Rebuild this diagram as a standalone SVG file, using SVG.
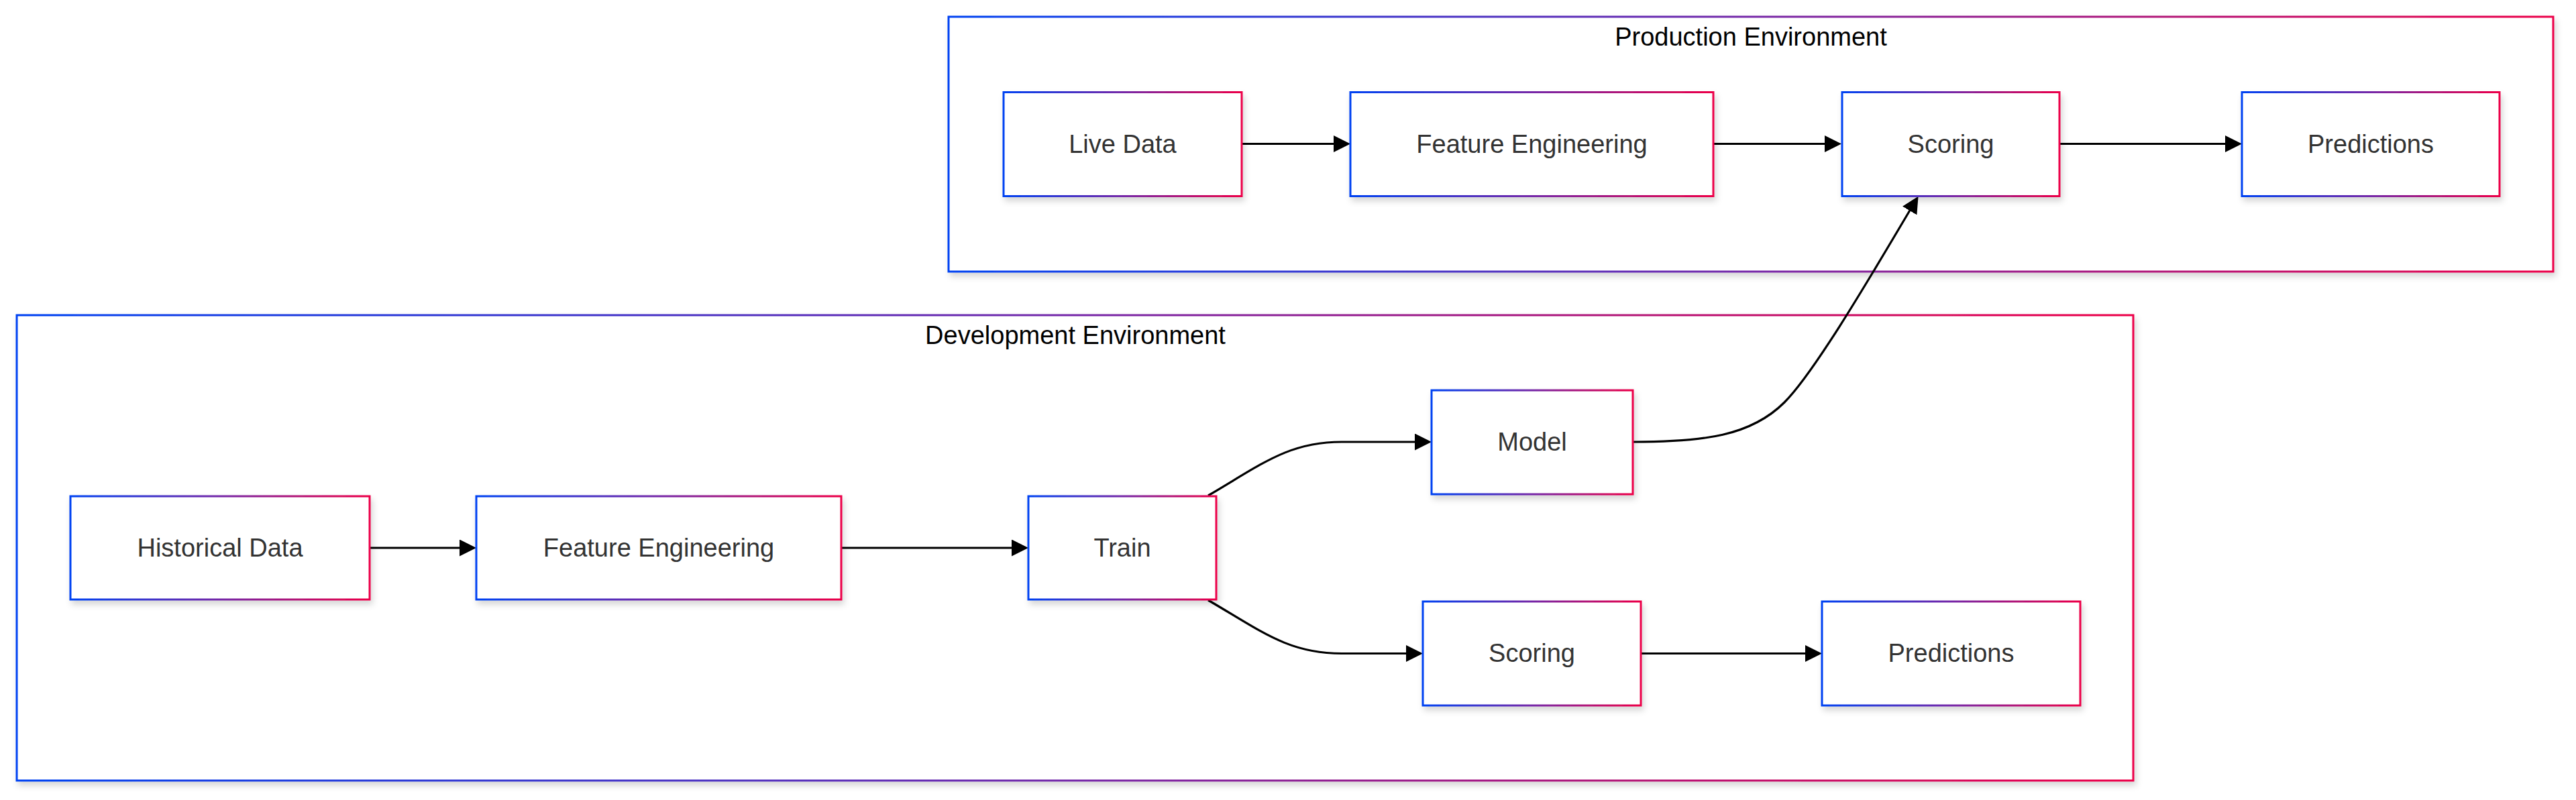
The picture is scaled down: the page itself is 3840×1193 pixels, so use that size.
<svg xmlns="http://www.w3.org/2000/svg" width="3840" height="1193" viewBox="0 0 3840 1193">
  <defs>
    <linearGradient id="grad" x1="0" y1="0" x2="1" y2="0">
      <stop offset="0" stop-color="#0042f2"/>
      <stop offset="0.5" stop-color="#7528a8"/>
      <stop offset="1" stop-color="#ec0048"/>
    </linearGradient>
    <filter id="shadow" x="-10%" y="-10%" width="125%" height="135%">
      <feDropShadow dx="3" dy="6" stdDeviation="5" flood-color="#000" flood-opacity="0.16"/>
    </filter>
    <marker id="arrow" viewBox="0 0 10 10" refX="8" refY="5" markerWidth="25" markerHeight="25" markerUnits="userSpaceOnUse" orient="auto">
      <path d="M0,0 L10,5 L0,10 z" fill="#000"/>
    </marker>
  </defs>
  <style>
    .cluster { fill: #ffffff; stroke: url(#grad); stroke-width: 3; filter: url(#shadow); }
    .node rect { fill: #ffffff; stroke: url(#grad); stroke-width: 3; filter: url(#shadow); }
    .label { font-family: "Liberation Sans", Arial, sans-serif; font-size: 38px; fill: #333333; text-anchor: middle; }
    .title { font-family: "Liberation Sans", Arial, sans-serif; font-size: 38px; fill: #000000; text-anchor: middle; }
    .edge { fill: none; stroke: #000; stroke-width: 3.2; marker-end: url(#arrow); }
  </style>
  <rect width="3840" height="1193" fill="#ffffff"/>

  <g id="cluster-production">
    <rect class="cluster" x="1414" y="25" width="2392" height="380"/>
    <text class="title" x="2610" y="68">Production Environment</text>
  </g>
  <g id="cluster-development">
    <rect class="cluster" x="25" y="470" width="3155" height="694"/>
    <text class="title" x="1603" y="513">Development Environment</text>
  </g>

  <g id="connectors">
    <path class="edge" d="M1851,214.5 L2008,214.5"/>
    <path class="edge" d="M2554,214.5 L2740,214.5"/>
    <path class="edge" d="M3070,214.5 L3337,214.5"/>
    <path class="edge" d="M551,817 L705,817"/>
    <path class="edge" d="M1254,817 L1528,817"/>
    <path class="edge" d="M1801,739 C1880,693 1920,659 2000,659 L2129,659"/>
    <path class="edge" d="M1801,895 C1880,941 1920,974.5 2000,974.5 L2116,974.5"/>
    <path class="edge" d="M2446,974.5 L2711,974.5"/>
    <path class="edge" d="M2434,659 C2540,659 2610,650 2660,600 C2710,550 2810,375 2857,297"/>
  </g>

  <g id="node-live-data" class="node">
    <rect x="1496" y="137.5" width="355" height="155"/>
    <text class="label" x="1673.5" y="228">Live Data</text>
  </g>
  <g id="node-prod-feature-engineering" class="node">
    <rect x="2013" y="137.5" width="541" height="155"/>
    <text class="label" x="2283.5" y="228">Feature Engineering</text>
  </g>
  <g id="node-prod-scoring" class="node">
    <rect x="2746" y="137.5" width="324" height="155"/>
    <text class="label" x="2908" y="228">Scoring</text>
  </g>
  <g id="node-prod-predictions" class="node">
    <rect x="3342" y="137.5" width="384" height="155"/>
    <text class="label" x="3534" y="228">Predictions</text>
  </g>

  <g id="node-historical-data" class="node">
    <rect x="105" y="740" width="446" height="154"/>
    <text class="label" x="328" y="830">Historical Data</text>
  </g>
  <g id="node-dev-feature-engineering" class="node">
    <rect x="710" y="740" width="544" height="154"/>
    <text class="label" x="982" y="830">Feature Engineering</text>
  </g>
  <g id="node-train" class="node">
    <rect x="1533" y="740" width="280" height="154"/>
    <text class="label" x="1673" y="830">Train</text>
  </g>
  <g id="node-model" class="node">
    <rect x="2134" y="582" width="300" height="155"/>
    <text class="label" x="2284" y="672">Model</text>
  </g>
  <g id="node-dev-scoring" class="node">
    <rect x="2121" y="897" width="325" height="155"/>
    <text class="label" x="2283.5" y="987">Scoring</text>
  </g>
  <g id="node-dev-predictions" class="node">
    <rect x="2716" y="897" width="385" height="155"/>
    <text class="label" x="2908.5" y="987">Predictions</text>
  </g>
</svg>
